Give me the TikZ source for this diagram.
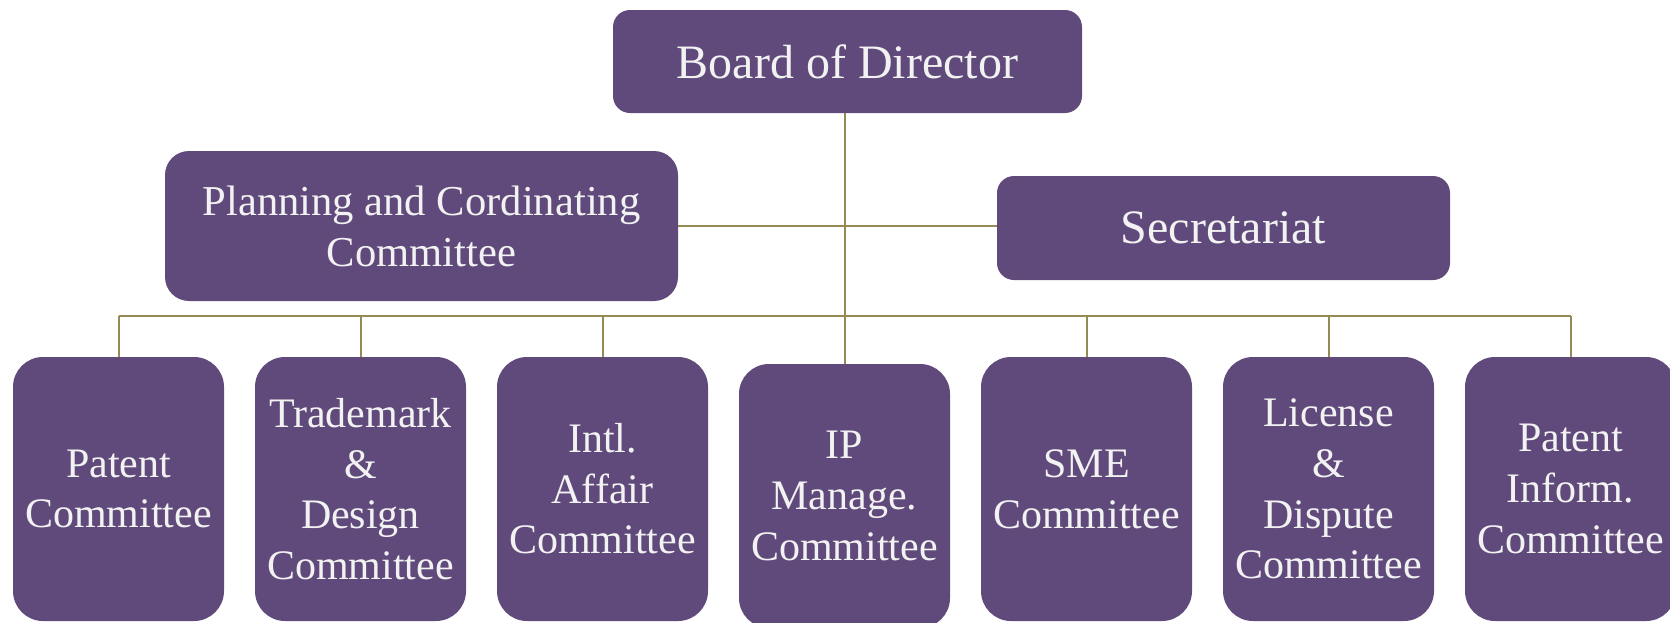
\documentclass[tikz,border=0pt]{standalone}
\usepackage{fontspec}
\setmainfont{Liberation Serif}
\definecolor{boxfill}{HTML}{604A7B}
\definecolor{linec}{HTML}{948A54}
\definecolor{txt}{HTML}{F2F2F2}
\begin{document}
\begin{tikzpicture}[x=0.5pt,y=-0.5pt,
  box/.style={fill=boxfill, draw=none, text=txt, align=center, inner sep=0pt},
  topbox/.style={box, rounded corners=8.5pt, font=\fontsize{24}{28.8}\selectfont},
  combox/.style={box, rounded corners=15pt, minimum width=105.5pt, minimum height=132pt, font=\fontsize{21}{25.3}\selectfont},
  conn/.style={draw=linec, line width=1pt}]
\useasboundingbox (0,0) rectangle (1670,622);
\clip (0,0) rectangle (1670,622);
% top level
\node[topbox, minimum width=234.5pt, minimum height=51.5pt] (board) at (847.5,61.5) {Board of Director};
\node[box, rounded corners=12pt, minimum width=256.5pt, minimum height=75pt, font=\fontsize{21.3}{25.5}\selectfont] (plan) at (421.5,226) {Planning and Cordinating\\Committee};
\node[topbox, minimum width=226.5pt, minimum height=52pt] (sec) at (1223.5,228) {Secretariat};
% committees
\node[combox] (c1) at (118.5,489) {Patent\\Committee};
\node[combox] (c2) at (360.5,489) {Trademark\\\&\\Design\\Committee};
\node[combox] (c3) at (602.5,489) {Intl.\\Affair\\Committee};
\node[combox] (c4) at (844.5,496) {IP\\Manage.\\Committee};
\node[combox] (c5) at (1086.5,489) {SME\\Committee};
\node[combox] (c6) at (1328.5,489) {License\\\&\\Dispute\\Committee};
\node[combox] (c7) at (1570.5,489) {Patent\\Inform.\\Committee};
% connectors
\coordinate (busL) at (118.5,316);
\coordinate (busR) at (1570.5,316);
\draw[conn] (board.south -| c4.north) -- (c4.north);
\draw[conn] (plan.east) -- (plan.east -| sec.west);
\draw[conn] (busL) -- (busR);
\foreach \n in {c1,c2,c3,c5,c6,c7}
  \draw[conn] (\n.north |- busL) -- (\n.north);
\end{tikzpicture}
\end{document}
